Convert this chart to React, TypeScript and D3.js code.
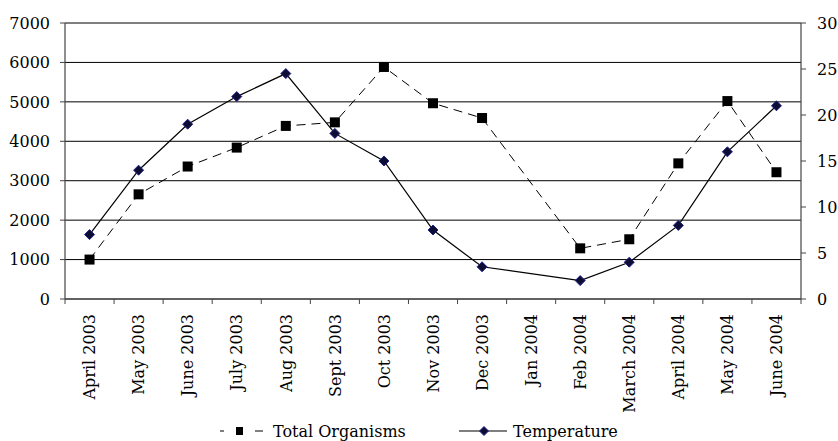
import React from "react";
import * as d3 from "d3";

const categories = [
  "April 2003", "May 2003", "June 2003", "July 2003", "Aug 2003", "Sept 2003",
  "Oct 2003", "Nov 2003", "Dec 2003", "Jan 2004", "Feb 2004", "March 2004",
  "April 2004", "May 2004", "June 2004",
];
const totalOrganisms: (number | null)[] = [
  1000, 2655, 3360, 3840, 4390, 4480, 5885, 4965, 4590, null, 1285, 1515, 3440, 5020, 3215,
];
const temperature: (number | null)[] = [
  7, 14, 19, 22, 24.5, 18, 15, 7.5, 3.5, null, 2, 4, 8, 16, 21,
];
const leftTicks = [0, 1000, 2000, 3000, 4000, 5000, 6000, 7000];
const rightTicks = [0, 5, 10, 15, 20, 25, 30];
const legendLabels = ["Total Organisms", "Temperature"];

const W = 838;
const H = 441;
const M = { left: 65, right: 801, top: 23, bottom: 299 };
const FONT = "DejaVu Serif, serif";
const FS = 16;

export default function App() {
  const x = d3.scaleBand<string>().domain(categories).range([M.left, M.right]).paddingInner(0).paddingOuter(0);
  const yL = d3.scaleLinear().domain([0, 7000]).range([M.bottom, M.top]);
  const yR = d3.scaleLinear().domain([0, 30]).range([M.bottom, M.top]);
  const cx = (c: string) => (x(c) as number) + x.bandwidth() / 2;

  const orgPts = categories
    .map((c, i) => ({ c, v: totalOrganisms[i] }))
    .filter((d) => d.v !== null) as { c: string; v: number }[];
  const tempPts = categories
    .map((c, i) => ({ c, v: temperature[i] }))
    .filter((d) => d.v !== null) as { c: string; v: number }[];

  const orgLine = d3.line<{ c: string; v: number }>().x((d) => cx(d.c)).y((d) => yL(d.v));
  const tempLine = d3.line<{ c: string; v: number }>().x((d) => cx(d.c)).y((d) => yR(d.v));

  const boundaries = [...categories.map((c) => x(c) as number), M.right];
  const sq = 10;
  const dm = 5;
  const diamond = (px: number, py: number, r: number) =>
    `M${px},${py - r}L${px + r},${py}L${px},${py + r}L${px - r},${py}Z`;
  const textStyle = { fontFamily: FONT };

  return (
    <svg
      width={W}
      height={H}
      style={{ position: "absolute", left: 0, top: 0, background: "#fff", fontFamily: FONT }}
    >
      <rect x={0} y={0} width={W} height={H} fill="#fff" />
      {leftTicks.map((t) => (
        <line key={"g" + t} x1={M.left} x2={M.right} y1={yL(t)} y2={yL(t)} stroke="#000" strokeWidth={1} />
      ))}
      <line x1={M.left} x2={M.left} y1={M.top} y2={M.bottom} stroke="#444" strokeWidth={1.2} />
      {leftTicks.map((t) => (
        <g key={"l" + t}>
          <line x1={M.left - 5} x2={M.left} y1={yL(t)} y2={yL(t)} stroke="#444" />
          <text x={50} y={yL(t)} dy="0.36em" textAnchor="end" fontSize={FS} fill="#000" style={textStyle}>
            {t}
          </text>
        </g>
      ))}
      <line x1={M.right} x2={M.right} y1={M.top} y2={M.bottom} stroke="#444" strokeWidth={1.2} />
      {rightTicks.map((t) => (
        <g key={"r" + t}>
          <line x1={M.right} x2={M.right + 5} y1={yR(t)} y2={yR(t)} stroke="#444" />
          <text x={817} y={yR(t)} dy="0.36em" textAnchor="start" fontSize={FS} fill="#000" style={textStyle}>
            {t}
          </text>
        </g>
      ))}
      <line x1={M.left} x2={M.right} y1={M.bottom} y2={M.bottom} stroke="#444" strokeWidth={1.2} />
      {boundaries.map((b, i) => (
        <line key={"xt" + i} x1={b} x2={b} y1={M.bottom} y2={M.bottom + 5} stroke="#444" />
      ))}
      {categories.map((c) => (
        <text
          key={"xl" + c}
          transform={`translate(${cx(c)},${314}) rotate(-90)`}
          textAnchor="end"
          dy="0.36em"
          fontSize={FS}
          fill="#000"
          style={textStyle}
        >
          {c}
        </text>
      ))}
      <path d={orgLine(orgPts) || ""} fill="none" stroke="#000" strokeWidth={1} strokeDasharray="9,6" />
      <path d={tempLine(tempPts) || ""} fill="none" stroke="#000" strokeWidth={1.2} />
      {orgPts.map((d) => (
        <rect key={"o" + d.c} x={cx(d.c) - sq / 2} y={yL(d.v) - sq / 2} width={sq} height={sq} fill="#000" />
      ))}
      {tempPts.map((d) => (
        <path key={"t" + d.c} d={diamond(cx(d.c), yR(d.v), dm)} fill="#0d0d33" stroke="#20208a" strokeWidth={1} />
      ))}
      <g>
        <line x1={220} x2={224} y1={431} y2={431} stroke="#000" />
        <rect x={236} y={427} width={7} height={8} fill="#000" />
        <line x1={255} x2={263} y1={431} y2={431} stroke="#000" />
        <text x={273} y={437} fontSize={FS} fill="#000" style={textStyle}>{legendLabels[0]}</text>
        <line x1={459} x2={507} y1={431} y2={431} stroke="#000" strokeWidth={1.2} />
        <path d={diamond(484, 431, 4.5)} fill="#0d0d33" stroke="#20208a" />
        <text x={513} y={437} fontSize={FS} fill="#000" style={textStyle}>{legendLabels[1]}</text>
      </g>
    </svg>
  );
}
